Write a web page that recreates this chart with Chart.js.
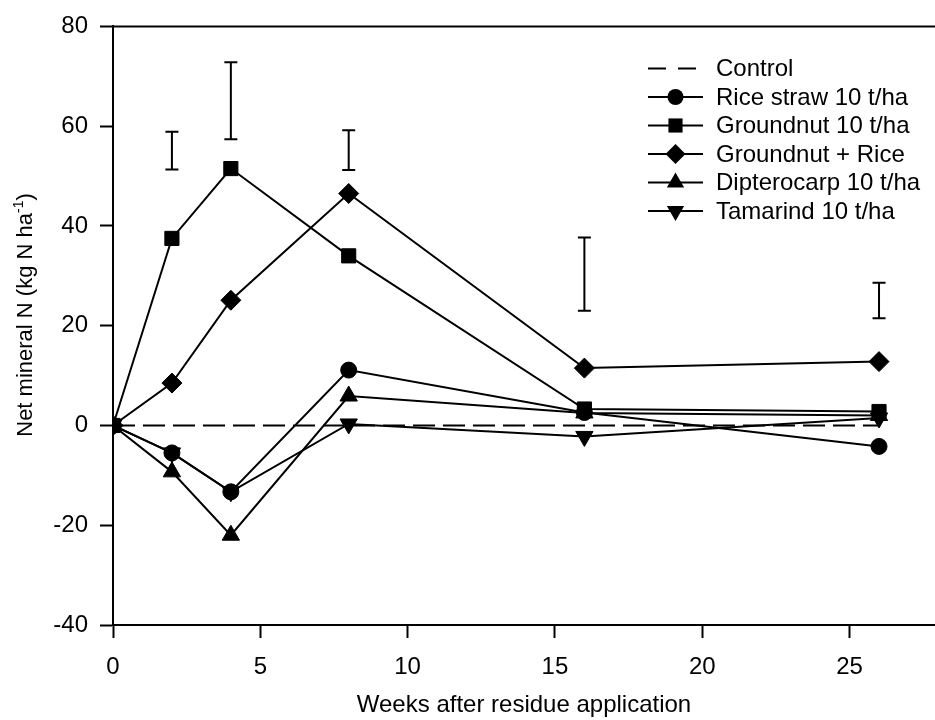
<!DOCTYPE html>
<html>
<head>
<meta charset="utf-8">
<script src="https://cdn.jsdelivr.net/npm/chart.js@4.4.0/dist/chart.umd.min.js"></script>
<style>
  html, body { margin: 0; padding: 0; background: #fff; }
  #wrap { width: 935px; height: 720px; }
</style>
</head>
<body>
<div id="wrap"><canvas id="chart" width="935" height="720"></canvas></div>
<script>
// sampling weeks and series (kg N / ha)
const weeks = [0, 2, 4, 8, 16, 26];
const seriesNames = ["Control", "Rice straw 10 t/ha", "Groundnut 10 t/ha", "Groundnut + Rice", "Dipterocarp 10 t/ha", "Tamarind 10 t/ha"];
const control = [0, 0, 0, 0, 0, 0];
const riceStraw = [0, -5.5, -13.3, 11.1, 2.6, -4.2];
const groundnut = [0, 37.5, 51.5, 34, 3.3, 2.8];
const groundnutRice = [0, 8.5, 25.1, 46.5, 11.5, 12.8];
const dipterocarp = [0, -9.3, -22, 5.9, 2.5, 2.0];
const tamarind = [0, -5.5, -13.3, 0.3, -2.2, 1.5];

// LSD bars
const errWeeks = [2, 4, 8, 16, 26];
const errLow = [51.3, 57.4, 51.2, 23, 21.5];
const errHigh = [58.9, 72.8, 59.2, 37.7, 28.6];

const xTicks = [0, 5, 10, 15, 20, 25];
const yTicks = [-40, -20, 0, 20, 40, 60, 80];

const FONT = "'Liberation Sans', Arial, Helvetica, sans-serif";
Chart.defaults.font.family = FONT;
Chart.defaults.font.size = 24;
Chart.defaults.color = "#000";

const toPoints = (vals) => weeks.map((w, i) => ({ x: w, y: vals[i] }));

const markers = [
    { style: false, radius: 0, rot: 0 },
    { style: "circle", radius: 8, rot: 0 },
    { style: "rect", radius: 10, rot: 0 },
    { style: "rectRot", radius: 10, rot: 0 },
    { style: "triangle", radius: 10, rot: 0 },
    { style: "triangle", radius: 10, rot: 180 }
];
const allSeries = [control, riceStraw, groundnut, groundnutRice, dipterocarp, tamarind];

const datasets = allSeries.map((vals, i) => ({
    label: seriesNames[i],
    data: toPoints(vals),
    borderColor: "#000",
    backgroundColor: "#000",
    borderWidth: 2,
    borderDash: i === 0 ? [22, 8] : [],
    pointStyle: markers[i].style,
    pointRadius: markers[i].radius,
    pointRotation: markers[i].rot,
    pointBorderWidth: 1,
    tension: 0
}));

function drawMarker(ctx, style, x, y, r, rot) {
    ctx.beginPath();
    if (style === "circle") {
        ctx.arc(x, y, r, 0, Math.PI * 2);
    } else if (style === "rect") {
        const s = Math.SQRT1_2 * r;
        ctx.rect(x - s, y - s, 2 * s, 2 * s);
    } else if (style === "rectRot") {
        ctx.moveTo(x - r, y);
        ctx.lineTo(x, y - r);
        ctx.lineTo(x + r, y);
        ctx.lineTo(x, y + r);
        ctx.closePath();
    } else if (style === "triangle") {
        const d = rot === 180 ? -1 : 1;
        ctx.moveTo(x, y - d * r);
        ctx.lineTo(x + r * Math.sin(Math.PI * 2 / 3), y + d * r / 2);
        ctx.lineTo(x - r * Math.sin(Math.PI * 2 / 3), y + d * r / 2);
        ctx.closePath();
    }
    ctx.fill();
}

const framePlugin = {
    id: "frame",
    beforeDatasetsDraw(chart) {
        const { ctx, chartArea } = chart;
        ctx.save();
        ctx.strokeStyle = "#000";
        ctx.lineWidth = 2;
        ctx.beginPath();
        ctx.moveTo(chartArea.left, chartArea.top);
        ctx.lineTo(chartArea.right, chartArea.top);
        ctx.stroke();
        ctx.restore();
    }
};

const errorBarPlugin = {
    id: "errorBars",
    afterDatasetsDraw(chart) {
        const { ctx, scales } = chart;
        ctx.save();
        ctx.strokeStyle = "#000";
        ctx.lineWidth = 2;
        errWeeks.forEach((w, i) => {
            const x = scales.x.getPixelForValue(w);
            const y1 = scales.y.getPixelForValue(errLow[i]);
            const y2 = scales.y.getPixelForValue(errHigh[i]);
            ctx.beginPath();
            ctx.moveTo(x, y1);
            ctx.lineTo(x, y2);
            ctx.moveTo(x - 6.5, y1);
            ctx.lineTo(x + 6.5, y1);
            ctx.moveTo(x - 6.5, y2);
            ctx.lineTo(x + 6.5, y2);
            ctx.stroke();
        });
        ctx.restore();
    }
};

// y title with a real superscript
const yTitlePlugin = {
    id: "yTitle",
    afterDraw(chart) {
        const ctx = chart.ctx;
        const main = "Net mineral N (kg N ha", sup = "-1", tail = ")";
        ctx.save();
        ctx.fillStyle = "#000";
        ctx.textBaseline = "alphabetic";
        ctx.font = "22px " + FONT;
        const w1 = ctx.measureText(main).width;
        const w3 = ctx.measureText(tail).width;
        ctx.font = "14px " + FONT;
        const w2 = ctx.measureText(sup).width;
        const total = w1 + w2 + w3;
        ctx.translate(32, 315);
        ctx.rotate(-Math.PI / 2);
        let x = -total / 2;
        ctx.font = "22px " + FONT;
        ctx.fillText(main, x, 0);
        x += w1;
        ctx.font = "14px " + FONT;
        ctx.fillText(sup, x, -9);
        x += w2;
        ctx.font = "22px " + FONT;
        ctx.fillText(tail, x, 0);
        ctx.restore();
    }
};

const legendPlugin = {
    id: "lineLegend",
    afterDraw(chart) {
        const ctx = chart.ctx;
        const x0 = 648, x1 = 703, tx = 716, top = 68.5, step = 28.5;
        ctx.save();
        ctx.fillStyle = "#000";
        ctx.strokeStyle = "#000";
        ctx.lineWidth = 2;
        ctx.font = "24px " + FONT;
        ctx.textBaseline = "middle";
        seriesNames.forEach((name, i) => {
            const y = top + i * step;
            ctx.beginPath();
            ctx.setLineDash(i === 0 ? [18, 12] : []);
            ctx.moveTo(x0, y);
            ctx.lineTo(x1, y);
            ctx.stroke();
            ctx.setLineDash([]);
            if (markers[i].style) {
                drawMarker(ctx, markers[i].style, (x0 + x1) / 2, y, markers[i].radius, markers[i].rot);
            }
            ctx.fillText(name, tx, y + 1);
        });
        ctx.restore();
    }
};

new Chart(document.getElementById("chart"), {
    type: "line",
    data: { datasets: datasets },
    plugins: [framePlugin, errorBarPlugin, yTitlePlugin, legendPlugin],
    options: {
        responsive: false,
        devicePixelRatio: 1,
        animation: false,
        layout: { autoPadding: false, padding: { top: 19, right: 0, bottom: 0, left: 0 } },
        plugins: {
            legend: { display: false },
            tooltip: { enabled: false }
        },
        scales: {
            x: {
                type: "linear",
                min: 0,
                max: 27.9,
                afterBuildTicks: (s) => { s.ticks = xTicks.map(v => ({ value: v })); },
                afterFit: (s) => { s.height = 95; s.paddingRight = 0; s.paddingLeft = 0; },
                border: { display: true, color: "#000", width: 2 },
                grid: { drawOnChartArea: false, drawTicks: true, tickLength: 13, tickWidth: 2, color: "#000" },
                ticks: { padding: 15, maxRotation: 0, font: { size: 24 } },
                title: {
                    display: true,
                    text: "Weeks after residue application",
                    font: { size: 24 },
                    padding: { top: 0, bottom: 0 }
                }
            },
            y: {
                min: -40,
                max: 80,
                afterBuildTicks: (s) => { s.ticks = yTicks.map(v => ({ value: v })); },
                afterFit: (s) => { s.width = 113; },
                border: { display: true, color: "#000", width: 2 },
                grid: { drawOnChartArea: false, drawTicks: true, tickLength: 13, tickWidth: 2, color: "#000" },
                ticks: { padding: 12, font: { size: 24 } },
                title: { display: false }
            }
        }
    }
});
</script>
</body>
</html>
